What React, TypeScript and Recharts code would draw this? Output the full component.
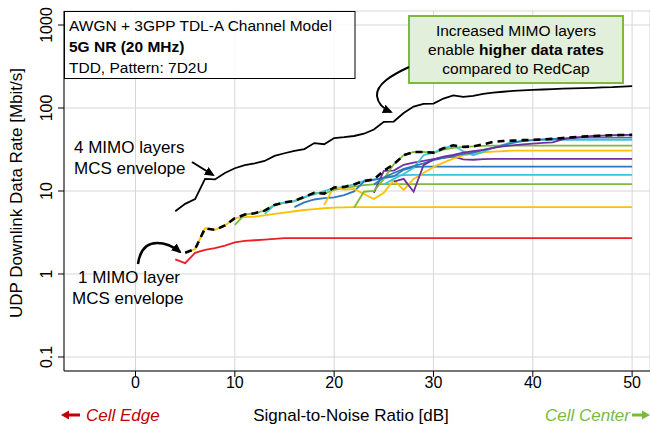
import { LineChart, Line, XAxis, YAxis, CartesianGrid } from "recharts";

const FONT = "'Liberation Sans', Arial, sans-serif";

// SNR grid [dB]
const SNR = [
  4, 5, 6, 7, 8, 9, 10, 11, 12, 13, 14, 15, 16, 17, 18, 19, 20, 21, 22, 23, 24, 25, 26, 27,
  28, 29, 30, 31, 32, 33, 34, 35, 36, 37, 38, 39, 40, 41, 42, 43, 44, 45, 46, 47, 48, 49, 50,
];

// 4 MIMO layers, MCS envelope (starts at 4 dB)
const MIMO4_ENV = [
  5.7, 7.0, 8.0, 14.0, 13.8, 16.5, 18.8, 20.5, 21.5, 23.0, 26.5, 28.5, 30.5, 32.0, 37.8, 36.6,
  43.5, 44.5, 46.0, 49.0, 55.0, 68.0, 68.7, 87.0, 104, 112, 113, 130, 142, 136, 140, 148, 153,
  157, 161, 163, 165, 167, 169, 171, 172, 174, 175, 177, 178, 181, 184,
];

// 1 MIMO layer, MCS envelope (starts at 5 dB)
const MIMO1_ENV_START = 5;
const MIMO1_ENV = [
  1.8, 2.0, 3.55, 3.4, 3.85, 4.7, 5.2, 5.4, 5.8, 6.8, 7.3, 7.6, 8.5, 9.5, 9.3, 11.0, 11.2, 12.0,
  13.2, 13.8, 17.5, 21.0, 27.0, 29.5, 29.5, 29.0, 32.7, 35.5, 34.0, 34.5, 36.5, 39.0, 40.0, 40.5,
  41.0, 41.3, 41.8, 42.5, 43.5, 44.5, 45.2, 46.0, 46.5, 47.0, 47.3, 47.5,
];

// 1 MIMO layer, single MCS curves
const RED_1_START = 4;
const RED_1 = [
  1.5, 1.35, 1.8, 1.95, 2.05, 2.2, 2.4, 2.5, 2.55, 2.6, 2.65, 2.7, 2.7, 2.7, 2.7, 2.7, 2.7, 2.7,
  2.7, 2.7, 2.7, 2.7, 2.7, 2.7, 2.7, 2.7, 2.7, 2.7, 2.7, 2.7, 2.7, 2.7, 2.7, 2.7, 2.7, 2.7, 2.7,
  2.7, 2.7, 2.7, 2.7, 2.7, 2.7, 2.7, 2.7, 2.7, 2.7,
];
const YELLOW_1_START = 5;
const YELLOW_1 = [
  1.8, 2.0, 3.55, 3.4, 3.85, 4.7, 4.85, 4.9, 5.1, 5.3, 5.5, 5.7, 5.9, 6.05, 6.2, 6.3, 6.35, 6.4,
  6.4, 6.4, 6.4, 6.4, 6.4, 6.4, 6.4, 6.4, 6.4, 6.4, 6.4, 6.4, 6.4, 6.4, 6.4, 6.4, 6.4, 6.4, 6.4,
  6.4, 6.4, 6.4, 6.4, 6.4, 6.4, 6.4, 6.4, 6.4,
];
const GREEN_1_START = 10;
const GREEN_1 = [
  3.9, 5.2, 5.4, 5.8, 6.8, 7.2, 7.5, 8.3, 9.5, 9.3, 10.3, 10.9, 11.3, 11.8, 12.0, 12.1, 12.1,
  12.1, 12.1, 12.1, 12.1, 12.1, 12.1, 12.1, 12.1, 12.1, 12.1, 12.1, 12.1, 12.1, 12.1, 12.1, 12.1,
  12.1, 12.1, 12.1, 12.1, 12.1, 12.1, 12.1, 12.1,
];
const CYAN_1_START = 13;
const CYAN_1 = [
  5.3, 6.8, 7.3, 7.6, 8.5, 9.1, 10.0, 10.8, 11.2, 12.0, 13.2, 13.8, 14.5, 15.2, 15.5, 15.6, 15.6,
  15.6, 15.6, 15.6, 15.6, 15.6, 15.6, 15.6, 15.6, 15.6, 15.6, 15.6, 15.6, 15.6, 15.6, 15.6, 15.6,
  15.6, 15.6, 15.6, 15.6, 15.6,
];
const BLUE_1_START = 16;
const BLUE_1 = [
  6.4, 7.3, 7.9, 8.2, 8.4, 8.9, 9.9, 13.0, 13.6, 14.3, 15.0, 18.0, 19.4, 19.7, 19.7, 19.7, 19.7,
  19.7, 19.7, 19.7, 19.7, 19.7, 19.7, 19.7, 19.7, 19.7, 19.7, 19.7, 19.7, 19.7, 19.7, 19.7, 19.7,
  19.7, 19.7,
];
const PURPLE_1_START = 24;
const PURPLE_1 = [
  9.5, 17.5, 17.6, 20.7, 22.0, 23.0, 24.2, 25.0, 26.0, 24.0, 23.8, 24.2, 24.4, 24.4, 24.4, 24.4,
  24.4, 24.4, 24.4, 24.4, 24.4, 24.4, 24.4, 24.4, 24.4, 24.4, 24.4,
];
const YELLOW_2_START = 19;
const YELLOW_2 = [
  6.8, 11.3, 10.4, 10.6, 9.2, 8.0, 9.5, 13.5, 10.3, 14.0, 16.5, 19.5, 22.0, 24.5, 26.8, 28.3,
  29.2, 29.8, 30.2, 30.7, 30.7, 30.7, 30.7, 30.7, 30.7, 30.7, 30.7, 30.7, 30.7, 30.7, 30.7, 30.7,
];
const GREEN_2_START = 22;
const GREEN_2 = [
  6.3, 9.8, 10.0, 14.0, 21.0, 27.0, 29.5, 29.5, 28.8, 31.5, 33.0, 34.0, 34.5, 35.0, 35.3, 35.3,
  35.3, 35.3, 35.3, 35.3, 35.3, 35.3, 35.3, 35.3, 35.3, 35.3, 35.3, 35.3, 35.3,
];
const CYAN_2_START = 25;
const CYAN_2 = [
  12.0, 14.0, 16.0, 19.0, 27.0, 29.0, 32.7, 35.5, 30.0, 27.0, 29.5, 33.0, 36.0, 39.0, 40.5, 41.0,
  41.3, 41.3, 41.3, 41.3, 41.3, 41.3, 41.3, 41.3, 41.3, 41.3,
];
const BLUE_2_START = 24;
const BLUE_2 = [
  12.0, 14.5, 16.5, 18.5, 20.0, 21.5, 23.5, 25.0, 26.6, 27.8, 29.0, 31.0, 33.0, 35.5, 38.0, 39.8,
  41.0, 41.8, 42.3, 43.0, 43.5, 44.0, 44.0, 44.0, 44.0, 44.0, 44.0,
];
const PURPLE_2_START = 26;
const PURPLE_2 = [
  13.0, 14.0, 9.8, 20.5, 24.0, 26.0, 27.3, 29.0, 30.3, 31.3, 33.0, 34.5, 35.5, 36.5, 37.3, 38.0,
  38.5, 42.0, 44.0, 45.0, 46.0, 46.5, 47.0, 47.3, 47.5,
];

const X_TICKS = [0, 10, 20, 30, 40, 50];
const Y_TICKS = [0.1, 1, 10, 100, 1000];

const RED = "#ee1c25";
const YELLOW = "#ffc000";
const GREEN = "#7db93a";
const CYAN = "#3bc4d4";
const BLUE = "#2d79c0";
const PURPLE = "#7030a0";

const MCS_LINES = [
  { key: "red1", start: RED_1_START, values: RED_1, color: RED },
  { key: "yellow1", start: YELLOW_1_START, values: YELLOW_1, color: YELLOW },
  { key: "green1", start: GREEN_1_START, values: GREEN_1, color: GREEN },
  { key: "cyan1", start: CYAN_1_START, values: CYAN_1, color: CYAN },
  { key: "blue1", start: BLUE_1_START, values: BLUE_1, color: BLUE },
  { key: "purple1", start: PURPLE_1_START, values: PURPLE_1, color: PURPLE },
  { key: "yellow2", start: YELLOW_2_START, values: YELLOW_2, color: YELLOW },
  { key: "green2", start: GREEN_2_START, values: GREEN_2, color: GREEN },
  { key: "cyan2", start: CYAN_2_START, values: CYAN_2, color: CYAN },
  { key: "blue2", start: BLUE_2_START, values: BLUE_2, color: BLUE },
  { key: "purple2", start: PURPLE_2_START, values: PURPLE_2, color: PURPLE },
];

function at(snr: number, start: number, values: number[]) {
  const v = values[snr - start];
  return v === undefined ? null : v;
}

const chartData = SNR.map((snr) => {
  const row: Record<string, number | null> = { snr };
  MCS_LINES.forEach((l) => {
    row[l.key] = at(snr, l.start, l.values);
  });
  row.env1 = at(snr, MIMO1_ENV_START, MIMO1_ENV);
  row.env4 = at(snr, SNR[0], MIMO4_ENV);
  return row;
});

function YTick({ x, y, payload }: any) {
  return (
    <text
      x={x}
      y={y}
      transform={`rotate(-90 ${x} ${y})`}
      textAnchor="middle"
      fontSize={16}
      fill="#000"
      fontFamily={FONT}
    >
      {payload.value}
    </text>
  );
}

function Overlay() {
  return (
    <svg
      width={650}
      height={428}
      style={{ position: "absolute", left: 0, top: 0, pointerEvents: "none" }}
      fontFamily={FONT}
    >
      <defs>
        <marker
          id="head"
          markerWidth="10"
          markerHeight="9"
          refX="8"
          refY="4.5"
          orient="auto"
          markerUnits="userSpaceOnUse"
        >
          <path d="M0,0 L10,4.5 L0,9 z" fill="#000" />
        </marker>
      </defs>

      <rect x={64.5} y={11.5} width={290.5} height={67} fill="#fff" fillOpacity={0.85} stroke="#000" />
      <text x={69} y={31} fontSize={15.5}>AWGN + 3GPP TDL-A Channel Model</text>
      <text x={69} y={52} fontSize={15.5} fontWeight="bold">5G NR (20 MHz)</text>
      <text x={69} y={73} fontSize={15.5}>TDD, Pattern: 7D2U</text>

      <rect x={409} y={16} width={214} height={67} fill="#e2efda" stroke={GREEN} strokeWidth={2} />
      <text x={516} y={36} textAnchor="middle" fontSize={15.5}>Increased MIMO layers</text>
      <text x={516} y={55} textAnchor="middle" fontSize={15.5}>
        enable <tspan fontWeight="bold">higher data rates</tspan>
      </text>
      <text x={516} y={74} textAnchor="middle" fontSize={15.5}>compared to RedCap</text>
      <path
        d="M409,67 C392,75 376,84 377,96 C378,104 384,109 391,112"
        fill="none"
        stroke="#000"
        strokeWidth={2}
        markerEnd="url(#head)"
      />

      <text x={74} y={153} fontSize={17}>4 MIMO layers</text>
      <text x={74} y={174} fontSize={17}>MCS envelope</text>
      <path d="M192,162 L213,175" stroke="#000" strokeWidth={2} markerEnd="url(#head)" />

      <text x={129} y={282.5} fontSize={17} textAnchor="middle">1 MIMO layer</text>
      <text x={72} y={303.5} fontSize={17}>MCS envelope</text>
      <path
        d="M138,264 C140,250 147,243 157,243 C167,243 174,247 180,252"
        fill="none"
        stroke="#000"
        strokeWidth={2.5}
        markerEnd="url(#head)"
      />

      <text x={22} y={193} fontSize={17} textAnchor="middle" transform="rotate(-90 22 193)">
        UDP Downlink Data Rate [Mbit/s]
      </text>
      <text x={351} y={421} fontSize={17} textAnchor="middle">Signal-to-Noise Ratio [dB]</text>

      <path d="M80,415 L67,415" stroke="#c00000" strokeWidth={3} />
      <path d="M61,415 L69,410.5 L69,419.5 z" fill="#c00000" />
      <text x={86} y={421} fontSize={17} fontStyle="italic" fill="#c00000">Cell Edge</text>

      <text x={630} y={421} fontSize={17} fontStyle="italic" fill={GREEN} textAnchor="end">
        Cell Center
      </text>
      <path d="M632,415 L643,415" stroke={GREEN} strokeWidth={3} />
      <path d="M650,415 L642,410.5 L642,419.5 z" fill={GREEN} />
    </svg>
  );
}

export default function App() {
  return (
    <div style={{ position: "absolute", left: 0, top: 0, width: 650, height: 428, background: "#fff" }}>
      <LineChart
        width={650}
        height={428}
        data={chartData}
        margin={{ top: 11, right: 0, left: 0, bottom: 0 }}
      >
        <CartesianGrid stroke="#d6d6d6" strokeWidth={1} />
        <XAxis
          dataKey="snr"
          type="number"
          domain={[-7.2, 51.8]}
          allowDataOverflow
          ticks={X_TICKS}
          height={57}
          tickSize={6}
          tickMargin={0}
          axisLine={{ stroke: "#000" }}
          tickLine={{ stroke: "#000" }}
          tick={{ fontSize: 16, fill: "#000", fontFamily: FONT }}
        />
        <XAxis
          xAxisId="top"
          orientation="top"
          dataKey="snr"
          type="number"
          domain={[-7.2, 51.8]}
          allowDataOverflow
          height={0}
          tick={false}
          tickLine={false}
          axisLine={{ stroke: "#000" }}
        />
        <YAxis
          type="number"
          scale="log"
          domain={[0.0678, 1475]}
          allowDataOverflow
          ticks={Y_TICKS}
          width={64}
          tickSize={6}
          tickMargin={6}
          axisLine={{ stroke: "#000" }}
          tickLine={{ stroke: "#000" }}
          tick={<YTick />}
        />
        {MCS_LINES.map((l) => (
          <Line
            key={l.key}
            type="linear"
            dataKey={l.key}
            stroke={l.color}
            strokeWidth={1.8}
            dot={false}
            isAnimationActive={false}
          />
        ))}
        <Line
          type="linear"
          dataKey="env1"
          stroke="#000"
          strokeWidth={2.6}
          strokeDasharray="7 5"
          dot={false}
          isAnimationActive={false}
        />
        <Line
          type="linear"
          dataKey="env4"
          stroke="#000"
          strokeWidth={1.8}
          dot={false}
          isAnimationActive={false}
        />
      </LineChart>
      <Overlay />
    </div>
  );
}
